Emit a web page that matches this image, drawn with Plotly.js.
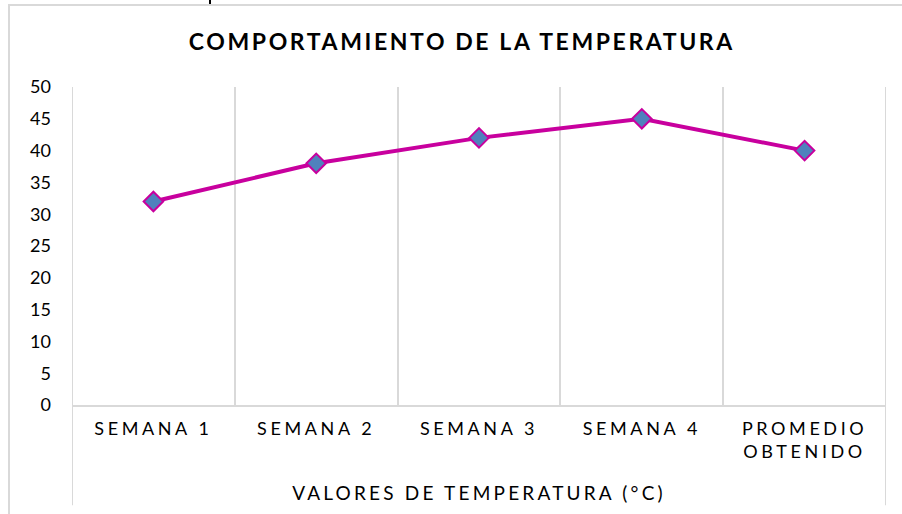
<!DOCTYPE html>
<html><head><meta charset="utf-8">
<script src="https://cdn.plot.ly/plotly-3.0.1.min.js"></script>
<style>
html,body{margin:0;padding:0;background:#fff;}
#chart{width:902px;height:514px;}
.xtick text {letter-spacing:3.6px;}
.g-xtitle text {letter-spacing:3.2px;}
.gtitle {letter-spacing:2.6px;}
</style></head><body>
<div id="chart"></div>
<script>
const categories = ["SEMANA 1","SEMANA 2","SEMANA 3","SEMANA 4","PROMEDIO<br>OBTENIDO"];
const temperatures = [32, 38, 42, 45, 40];
const yTicks = [0,5,10,15,20,25,30,35,40,45,50];

const trace = {
  x: categories, y: temperatures, type: 'scatter', mode: 'lines+markers',
  line: {color: '#c8009e', width: 4},
  marker: {symbol: 'diamond', size: 15, color: '#4f81bd', line: {color: '#c8009e', width: 2}},
  hoverinfo: 'skip'
};
const W = 814, H = 318;
const layout = {
  width: 902, height: 514,
  margin: {l: 72, r: 16, t: 87, b: 109},
  paper_bgcolor: '#fff', plot_bgcolor: '#fff',
  font: {family: 'Lato, "Open Sans", sans-serif', color: '#000'},
  showlegend: false,
  title: {text: 'COMPORTAMIENTO DE LA TEMPERATURA', x: 0.512, xanchor: 'center', y: 0.918, yanchor: 'middle',
          font: {size: 23, color: '#000', family: 'Lato, sans-serif', weight: 'bold'}},
  xaxis: {
    type: 'category', tickson: 'boundaries', showgrid: true, gridcolor: '#d9d9d9', gridwidth: 2,
    showline: true, linecolor: '#d9d9d9', linewidth: 2, ticks: '', zeroline: false,
    range: [-0.5, 4.5], fixedrange: true, ticklabelstandoff: 6,
    tickfont: {size: 18, color: '#000'},
    title: {text: 'VALORES DE TEMPERATURA (°C)', font: {size: 19, color: '#000'}, standoff: 26}
  },
  yaxis: {
    range: [0, 50], tickvals: yTicks, ticktext: yTicks.map(String), showgrid: false, zeroline: false,
    showline: false, ticks: '', ticklabelstandoff: 20, tickfont: {size: 18, color: '#000'}, fixedrange: true
  },
  shapes: [
    {type: 'line', xref: 'x', yref: 'paper', x0: -0.5, x1: -0.5, y0: -0.315, y1: 1, line: {color: '#d9d9d9', width: 2}},
    {type: 'line', xref: 'x', yref: 'paper', x0: 4.5, x1: 4.5, y0: -0.315, y1: 1, line: {color: '#d9d9d9', width: 2}},
    {type: 'rect', xref: 'paper', yref: 'paper', x0: (9-72)/W, x1: (905-72)/W, y0: -(514-405+20)/H, y1: (405-5)/H,
     line: {color: '#d9d9d9', width: 2}, fillcolor: 'rgba(0,0,0,0)'},
    {type: 'line', xref: 'paper', yref: 'paper', x0: (210-72)/W, x1: (210-72)/W, y0: (405-4)/H, y1: (405+2)/H,
     line: {color: '#000', width: 2}}
  ]
};
Plotly.newPlot('chart', [trace], layout, {displayModeBar: false, staticPlot: true});
</script>
</body></html>
